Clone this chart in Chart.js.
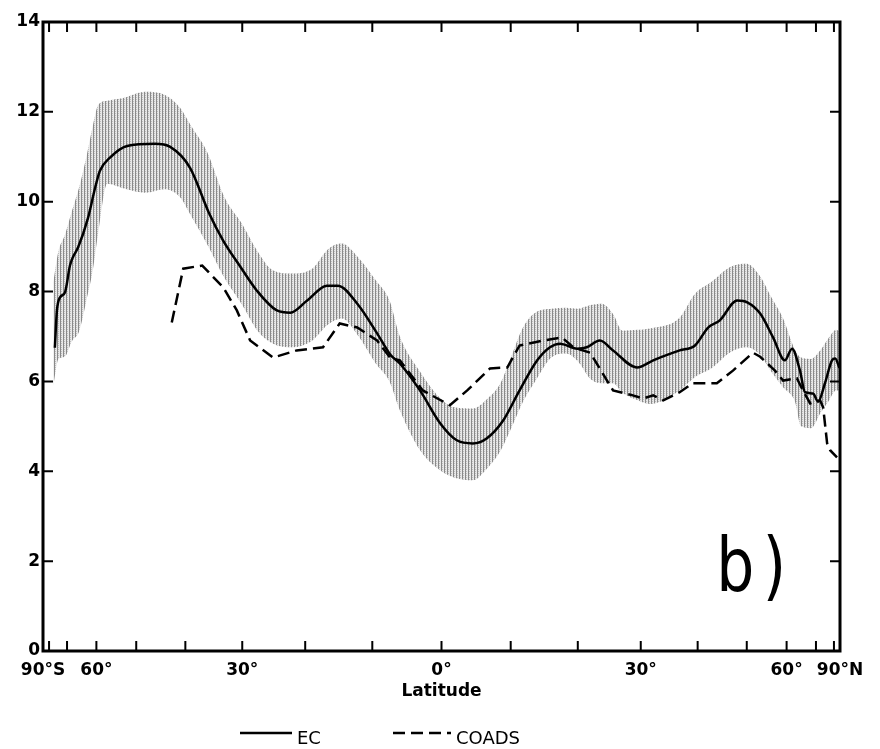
<!DOCTYPE html>
<html>
<head>
<meta charset="utf-8">
<script src="https://cdn.jsdelivr.net/npm/chart.js@4.4.1/dist/chart.umd.min.js"></script>
<style>
  html, body { margin: 0; padding: 0; background: #fff; }
</style>
</head>
<body>
<canvas id="chart" width="880" height="749"></canvas>
<script>
// EC zonal mean (solid line)
const ecLat = [-76, -74.8, -73.2, -70.9, -68.8, -67.7, -65.8, -62.5, -60.4, -59, -56.3, -52.1, -46, -42.9, -39.1, -35.7, -33.2, -30.4,
  -27.6, -24.4, -22.3, -19.7, -16.7, -15.1, -12.2, -9.3, -7.4, -6.0, -3.1, -0.2, 2.2, 4.5, 6.5, 8.9, 11.3, 13.9, 15.8, 17.3, 19.9,
  21.4, 23.4, 25.5, 29.4, 32.1, 36.7, 39.5, 42.0, 44.3, 47.9, 50.1, 53.1, 56.3, 59.5, 61.6, 64.1, 65.8, 68.8, 70.9, 74.2, 78.5, 81.1, 87];
const ecVal = [6.75, 7.58, 7.87, 7.98, 8.58, 8.76, 8.98, 9.64, 10.3, 10.69, 10.98, 11.24, 11.29, 11.22, 10.75, 9.75, 9.13, 8.57,
  8.02, 7.58, 7.53, 7.8, 8.13, 8.13, 7.73, 7.07, 6.6, 6.4, 5.8, 5.07, 4.69, 4.62, 4.73, 5.13, 5.8, 6.47, 6.76, 6.84, 6.73,
  6.76, 6.91, 6.69, 6.31, 6.47, 6.69, 6.8, 7.2, 7.36, 7.8, 7.76, 7.51, 6.98, 6.47, 6.73, 6.24, 5.76, 5.73, 5.55, 5.96, 6.47, 6.51, 6.3];

// COADS (dashed line)
const coLat = [-42.6, -40.4, -36.9, -33.2, -30.9, -28.7, -25.0, -21.3, -17.3, -14.8, -12.2, -9.3, -7.4, -6.0, -2.7, 1.2, 3.7, 7.0,
  9.5, 11.3, 14.8, 17.6, 19.3, 21.9, 25.5, 28.7, 30.4, 32.1, 33.8, 36.7, 39.1, 43.7, 47.0, 51.4, 53.1, 56.8, 59.0, 63.1, 65.1,
  67.7, 71.8, 73.3, 75.4, 77.2, 83];
const coVal = [7.31, 8.51, 8.58, 8.09, 7.58, 6.91, 6.53, 6.69, 6.76, 7.29, 7.2, 6.91, 6.53, 6.47, 5.8, 5.47, 5.8, 6.29,
  6.31, 6.8, 6.91, 6.98, 6.76, 6.64, 5.8, 5.69, 5.62, 5.69, 5.58, 5.76, 5.96, 5.96, 6.24, 6.64, 6.55, 6.24, 6.02, 6.07, 5.8,
  5.51, 5.58, 5.42, 4.62, 4.47, 4.31];

// EC spread (shaded band)
const bandLat = [-77, -74, -71, -68, -65.5, -63, -61, -59.5, -57, -53, -48, -44, -41, -39, -36, -33, -30, -27.5, -25, -22,
  -19, -16.5, -14.5, -12, -9.5, -7.5, -6, -3, 0, 2, 4.5, 6.5, 8.5, 10.2, 11.8, 13.8, 16, 18.2, 20, 22,
  23.7, 25.5, 27, 29.5, 31.5, 36.7, 39.5, 42.5, 46.5, 50, 53, 56, 59, 62.5, 64.5, 68, 72, 76, 82, 88];
const bandHigh = [8.2, 8.9, 9.25, 9.8, 10.3, 11.0, 11.7, 12.15, 12.25, 12.31, 12.45, 12.38, 12.09, 11.7, 11.1, 10.1, 9.5, 8.9, 8.47, 8.4,
  8.5, 8.95, 9.07, 8.75, 8.25, 7.8, 7.0, 6.2, 5.6, 5.42, 5.4, 5.6, 5.96, 6.6, 7.2, 7.55, 7.62, 7.64, 7.62, 7.7,
  7.73, 7.5, 7.13, 7.15, 7.18, 7.42, 7.95, 8.2, 8.55, 8.62, 8.35, 7.85, 7.4, 6.7, 6.53, 6.5, 6.7, 6.95, 7.15, 7.1];
const bandLow = [5.9, 6.5, 6.55, 6.9, 7.1, 7.8, 8.5, 9.3, 10.4, 10.3, 10.2, 10.28, 10.1, 9.7, 9.05, 8.3, 7.7, 7.13, 6.84, 6.76,
  6.9, 7.27, 7.4, 7.0, 6.4, 6.0, 5.36, 4.45, 4.0, 3.85, 3.8, 4.05, 4.45, 5.0, 5.55, 6.05, 6.53, 6.62, 6.45, 6.05,
  5.96, 5.96, 5.75, 5.58, 5.5, 5.8, 6.1, 6.28, 6.65, 6.76, 6.6, 6.2, 5.87, 5.55, 5.0, 4.96, 5.3, 5.55, 5.8, 5.8];

const xTickVals = [-90, -60, -30, 0, 30, 60, 90];
const xTickText = ['90°S', '60°', '30°', '0°', '30°', '60°', '90°N'];

function pts(xs, ys) {
  return xs.map((v, i) => ({x: v, y: ys[i]}));
}

// x axis is linear in sin(latitude)
class SineScale extends Chart.LinearScale {
  getPixelForValue(v) {
    if (v === null || v === undefined || isNaN(v)) return NaN;
    return this.getPixelForDecimal((Math.sin(v * Math.PI / 180) + 1) / 2);
  }
  getValueForPixel(p) {
    return Math.asin(2 * this.getDecimalForPixel(p) - 1) * 180 / Math.PI;
  }
}
SineScale.id = 'sine';
SineScale.defaults = Chart.LinearScale.defaults;
Chart.register(SineScale);

function stripes() {
  const c = document.createElement('canvas');
  c.width = 3; c.height = 2;
  const g = c.getContext('2d');
  g.fillStyle = '#e8e8e8'; g.fillRect(0, 0, 3, 2);
  g.fillStyle = '#8a8a8a'; g.fillRect(0, 0, 1, 2);
  g.fillStyle = '#bdbdbd'; g.fillRect(1, 1, 1, 1);
  return g.createPattern(c, 'repeat');
}

// box, inward ticks, panel label and legend
const frame = {
  id: 'frame',
  afterDraw(chart) {
    const {ctx, chartArea: a, scales: {x, y}} = chart;
    ctx.save();
    ctx.strokeStyle = '#000';
    ctx.lineWidth = 2;
    ctx.beginPath();
    x.ticks.forEach(t => {
      if (t.value <= -90 || t.value >= 90) return;
      const px = x.getPixelForValue(t.value);
      ctx.moveTo(px, a.bottom); ctx.lineTo(px, a.bottom - 10);
      ctx.moveTo(px, a.top); ctx.lineTo(px, a.top + 10);
    });
    y.ticks.forEach(t => {
      if (t.value <= 0 || t.value >= 14) return;
      const py = y.getPixelForValue(t.value);
      ctx.moveTo(a.left, py); ctx.lineTo(a.left + 10, py);
      ctx.moveTo(a.right, py); ctx.lineTo(a.right - 10, py);
    });
    ctx.stroke();
    ctx.lineWidth = 3;
    ctx.strokeRect(a.left, a.top, a.right - a.left, a.bottom - a.top);

    // panel label
    ctx.fillStyle = '#000';
    ctx.save();
    ctx.translate(x.getPixelForValue(43.6), y.getPixelForValue(1.33));
    ctx.scale(0.8, 1);
    ctx.font = '75px "DejaVu Sans"';
    ctx.textBaseline = 'alphabetic';
    ctx.fillText('b', 0, 0);
    ctx.fillText(')', 58, 0);
    ctx.restore();

    // legend
    const items = chart.data.datasets.filter(d => d.label);
    const lx = [240, 393], lw = [52, 58];
    ctx.font = '18px "DejaVu Sans"';
    ctx.textBaseline = 'middle';
    items.forEach((d, i) => {
      ctx.lineWidth = d.borderWidth;
      ctx.setLineDash(d.borderDash || []);
      ctx.beginPath();
      ctx.moveTo(lx[i], 733);
      ctx.lineTo(lx[i] + lw[i], 733);
      ctx.stroke();
      ctx.setLineDash([]);
      ctx.fillText(d.label, lx[i] + lw[i] + 5, 739);
    });
    ctx.restore();
  }
};

Chart.defaults.font.family = '"DejaVu Sans", sans-serif';
Chart.defaults.color = '#000';

new Chart(document.getElementById('chart'), {
  type: 'line',
  data: {
    datasets: [
      {label: 'EC', data: pts(ecLat, ecVal), borderColor: '#000', borderWidth: 2.5,
       cubicInterpolationMode: 'monotone', fill: false},
      {label: 'COADS', data: pts(coLat, coVal), borderColor: '#000', borderWidth: 2.5,
       borderDash: [12, 6], tension: 0, fill: false},
      {data: pts(bandLat, bandHigh), borderWidth: 0, borderColor: 'rgba(0,0,0,0)',
       backgroundColor: stripes(), cubicInterpolationMode: 'monotone', fill: '+1'},
      {data: pts(bandLat, bandLow), borderWidth: 0, borderColor: 'rgba(0,0,0,0)',
       cubicInterpolationMode: 'monotone', fill: false}
    ]
  },
  options: {
    responsive: false,
    devicePixelRatio: 1,
    animation: false,
    layout: {padding: {left: 0, right: 40, top: 22, bottom: 42}},
    elements: {point: {radius: 0}},
    plugins: {legend: {display: false}, tooltip: {enabled: false}},
    scales: {
      x: {
        type: 'sine', min: -90, max: 90,
        grid: {display: false, drawTicks: false},
        border: {display: false},
        ticks: {
          stepSize: 10, autoSkip: false, maxRotation: 0, padding: 9,
          font: {size: 17, weight: 'bold'},
          callback: v => {
            const i = xTickVals.indexOf(Math.round(v));
            return i < 0 ? '' : xTickText[i];
          }
        },
        title: {display: true, text: 'Latitude', font: {size: 17, weight: 'bold'}, padding: {top: 0, bottom: 5}},
        afterFit: s => { s.height = 56; }
      },
      y: {
        min: 0, max: 14,
        grid: {display: false, drawTicks: false},
        border: {display: false},
        ticks: {stepSize: 2, padding: 3, font: {size: 17, weight: 'bold'}},
        afterFit: s => { s.width = 43; }
      }
    }
  },
  plugins: [frame]
});
</script>
</body>
</html>
